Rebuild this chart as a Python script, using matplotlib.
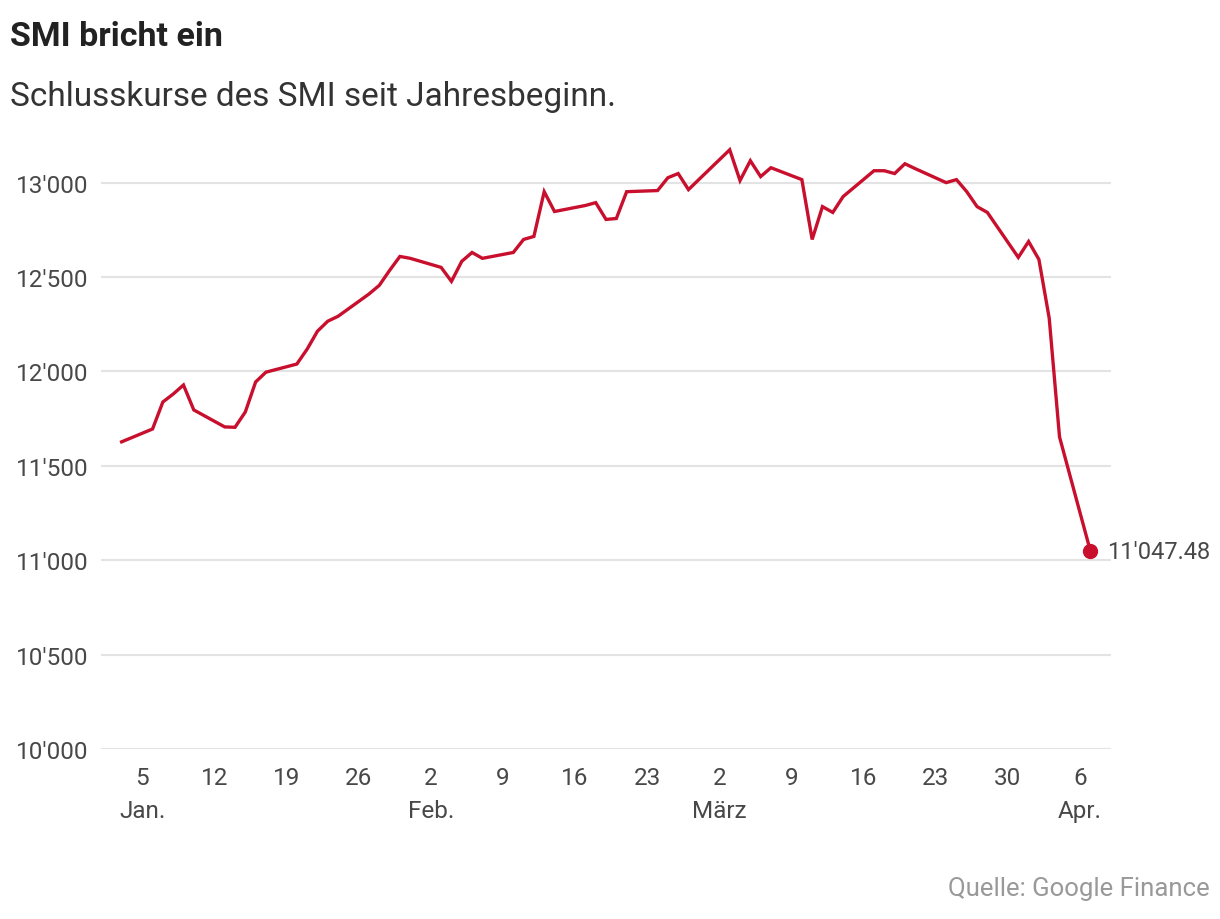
"""Recreate the SMI year-to-date closing price line chart."""

import numpy as np
import matplotlib
matplotlib.use("Agg")
import matplotlib.pyplot as plt
from matplotlib.ticker import FuncFormatter

plt.rcParams['font.family'] = ['Roboto', 'DejaVu Sans']

# Trading days and closing values
dates = np.array([
    '2025-01-03', '2025-01-06', '2025-01-07', '2025-01-08', '2025-01-09', '2025-01-10',
    '2025-01-13', '2025-01-14', '2025-01-15', '2025-01-16', '2025-01-17',
    '2025-01-20', '2025-01-21', '2025-01-22', '2025-01-23', '2025-01-24',
    '2025-01-27', '2025-01-28', '2025-01-29', '2025-01-30', '2025-01-31',
    '2025-02-03', '2025-02-04', '2025-02-05', '2025-02-06', '2025-02-07',
    '2025-02-10', '2025-02-11', '2025-02-12', '2025-02-13', '2025-02-14',
    '2025-02-17', '2025-02-18', '2025-02-19', '2025-02-20', '2025-02-21',
    '2025-02-24', '2025-02-25', '2025-02-26', '2025-02-27', '2025-02-28',
    '2025-03-03', '2025-03-04', '2025-03-05', '2025-03-06', '2025-03-07',
    '2025-03-10', '2025-03-11', '2025-03-12', '2025-03-13', '2025-03-14',
    '2025-03-17', '2025-03-18', '2025-03-19', '2025-03-20', '2025-03-21',
    '2025-03-24', '2025-03-25', '2025-03-26', '2025-03-27', '2025-03-28',
    '2025-03-31', '2025-04-01', '2025-04-02', '2025-04-03', '2025-04-04',
    '2025-04-07',
], dtype='datetime64[D]')

closes = np.array([
    11627, 11695, 11838, 11880, 11928, 11796,
    11706, 11704, 11785, 11944, 11996,
    12039, 12118, 12213, 12266, 12292,
    12410, 12456, 12535, 12609, 12599,
    12551, 12477, 12583, 12630, 12599,
    12630, 12699, 12715, 12952, 12847,
    12879, 12894, 12805, 12810, 12952,
    12958, 13026, 13048, 12963, 13016,
    13174, 13011, 13116, 13032, 13079,
    13016, 12699, 12873, 12842, 12926,
    13063, 13063, 13048, 13100, 13074,
    13000, 13016, 12952, 12873, 12842,
    12604, 12688, 12593, 12282, 11653,
    11047.48,
])

tick_dates = np.array([
    '2025-01-05', '2025-01-12', '2025-01-19', '2025-01-26',
    '2025-02-02', '2025-02-09', '2025-02-16', '2025-02-23',
    '2025-03-02', '2025-03-09', '2025-03-16', '2025-03-23', '2025-03-30',
    '2025-04-06',
], dtype='datetime64[D]')
tick_labels = [
    '5\nJan.', '12', '19', '26',
    '2\nFeb.', '9', '16', '23',
    '2\nMärz', '9', '16', '23', '30',
    '6\nApr.',
]
y_ticks = [10000, 10500, 11000, 11500, 12000, 12500, 13000]

RED = '#c8102e'


def swiss(v, pos=None):
    """Format a number with an apostrophe as thousands separator."""
    return f"{v:,.0f}".replace(",", "'")


def main():
    fig = plt.figure(figsize=(12.2, 9.2), dpi=100)
    ax = fig.add_axes([0.0828, 0.1848, 0.8279, 0.6587])

    x = dates.astype('datetime64[ms]').astype(object)
    ax.plot(x, closes, color=RED, lw=2.4, solid_joinstyle='miter', zorder=3)
    ax.plot(x[-1], closes[-1], 'o', color=RED, ms=10, zorder=4)
    ax.annotate(f"{closes[-1]:,.2f}".replace(",", "'"), (x[-1], closes[-1]),
                xytext=(12, 0), textcoords='offset points', va='center',
                ha='left', fontsize=17, color='#484848')

    ax.set_xlim(np.datetime64('2025-01-01').astype(object),
                np.datetime64('2025-04-09').astype(object))
    ax.set_ylim(10000, 13210)

    ax.set_yticks(y_ticks)
    ax.yaxis.set_major_formatter(FuncFormatter(swiss))
    ax.set_xticks(tick_dates.astype(object))
    ax.set_xticklabels(tick_labels, linespacing=1.6)

    ax.grid(axis='y', color='#e3e3e3', lw=1.5)
    ax.set_axisbelow(True)
    for s in ax.spines.values():
        s.set_visible(False)
    ax.tick_params(axis='both', length=0, labelsize=17.5, labelcolor='#484848')
    ax.tick_params(axis='y', pad=9)
    ax.tick_params(axis='x', pad=12)

    fig.text(0.0082, 0.960, 'SMI bricht ein', fontsize=24.5, fontweight='bold',
             color='#222222', va='center', ha='left')
    fig.text(0.0082, 0.895, 'Schlusskurse des SMI seit Jahresbeginn.', fontsize=24,
             color='#333333', va='center', ha='left')
    fig.text(0.9918, 0.034, 'Quelle: Google Finance', fontsize=18.5,
             color='#999999', va='center', ha='right')

    fig.savefig('out.png', dpi=100)


if __name__ == '__main__':
    main()
